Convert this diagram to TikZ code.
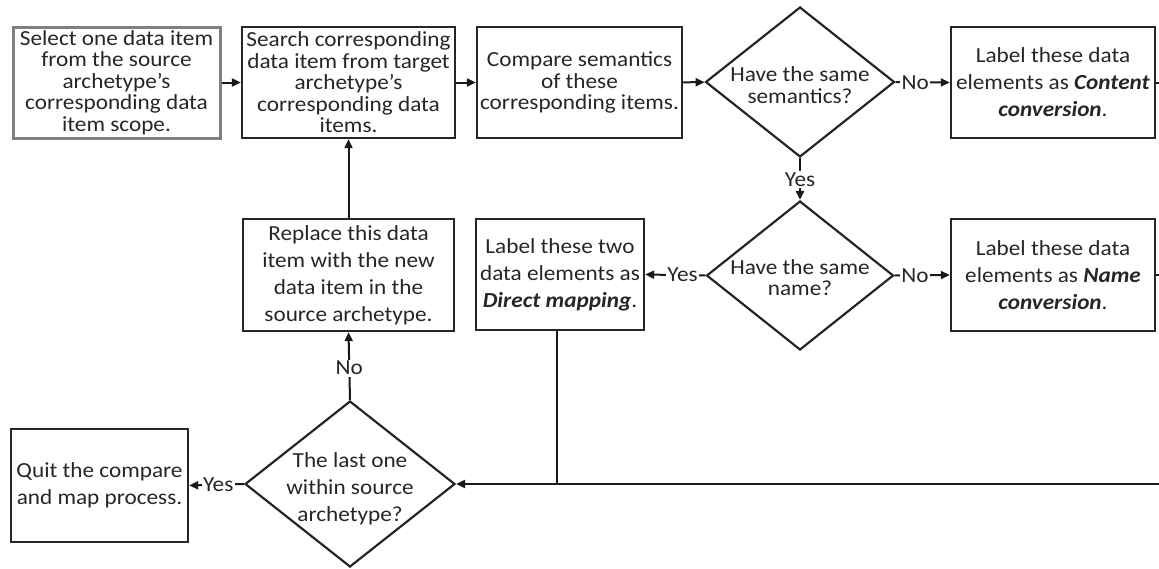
\documentclass[tikz,border=0pt]{standalone}
\usepackage{fontspec}
\setmainfont{Carlito}[FakeStretch=1.08]
\usetikzlibrary{shapes.geometric,arrows.meta,calc}
\begin{document}
\begin{tikzpicture}[x=1pt,y=-1pt,
 txt/.style={font=\fontsize{21.5}{21.5}\selectfont, align=center, inner sep=0pt, text=black!85},
 txtb/.style={font=\fontsize{21.5}{27}\selectfont, align=center, inner sep=0pt, text=black!85},
 box/.style={draw=black!85, line width=2.3pt, rectangle, inner sep=0pt},
 startbox/.style={draw=black!50, line width=3pt, rectangle, inner sep=0pt},
 dia/.style={draw=black!85, line width=2.2pt, diamond, inner sep=0pt},
 conn/.style={line width=2pt, draw=black!90},
 arr/.style={conn, -{Triangle[length=9pt,width=8pt]}},
 lbl/.style={fill=white, inner sep=1.5pt, text=black!85, font=\fontsize{21.5}{21.5}\selectfont}
]
\useasboundingbox (0,0) rectangle (1159,568);

% row 1
\node[startbox, txt, minimum width=207pt, minimum height=111pt] (select) at (116.5,82.5)
 {Select one data item\\from the source\\archetype’s\\corresponding data\\item scope.};
\node[box, txt, minimum width=213pt, minimum height=111pt] (search) at (348.5,82.5)
 {Search corresponding\\data item from target\\archetype’s\\corresponding data\\items.};
\node[box, txt, minimum width=205pt, minimum height=111pt] (compare) at (579.5,82.5)
 {Compare semantics\\of these\\corresponding items.};
\node[dia, minimum width=189pt, minimum height=150pt] (d1) at (800,82) {};
\node[txt] (d1t) at ($(d1)+(0,3)$) {Have the same\\semantics?};
\node[box, txtb, minimum width=204pt, minimum height=111pt] (content) at (1053,82.5)
 {Label these data\\elements as \textbf{\textit{Content}}\\\textbf{\textit{conversion}}.};

% row 2
\node[dia, minimum width=187pt, minimum height=149pt] (d2) at (800,275.5) {};
\node[txt] (d2t) at ($(d2)+(0,2)$) {Have the same\\name?};
\node[box, txtb, minimum width=204pt, minimum height=112pt] (name) at (1053,275)
 {Label these data\\elements as \textbf{\textit{Name}}\\\textbf{\textit{conversion}}.};
\node[box, txtb, minimum width=168pt, minimum height=111pt] (direct) at (560,274.5)
 {Label these two\\data elements as\\\textbf{\textit{Direct mapping}}.};
\node[box, txtb, minimum width=211pt, minimum height=112pt] (replace) at (348.5,275)
 {Replace this data\\item with the new\\data item in the\\source archetype.};

% row 3
\node[dia, minimum width=210pt, minimum height=166pt] (d3) at (350,484) {};
\node[txtb] (d3t) at ($(d3)+(0,5)$) {The last one\\within source\\archetype?};
\node[box, txtb, minimum width=177pt, minimum height=113pt] (quit) at (99.5,485.5)
 {Quit the compare\\and map process.};

% free ends
\coordinate (cR) at (1159,82.5);
\coordinate (nR) at (1159,275);
\coordinate (bR) at (1159,484);
\coordinate (dB) at ($(direct.south)+(-3,0)$);
\coordinate (bJ) at (dB |- bR);

% connectors
\draw[arr] (select) -- (search);
\draw[arr] (search) -- (compare);
\draw[arr] (compare) -- (d1);
\draw[arr] (d1.east) -- node[lbl, pos=0.36] {No} (content.west);
\draw[arr] (d1.south) -- node[lbl, pos=0.52] {Yes} (d2.north);
\draw[arr] (d2.east) -- node[lbl, pos=0.37] {No} (name.west);
\draw[arr] (d2.west) -- node[lbl, pos=0.38] {Yes} (direct.east);
\draw[arr] (replace.north) -- (search.south);
\draw[arr] (d3.north) -- node[lbl, pos=0.47] {No} (replace.south);
\draw[arr] (d3.west) -- node[lbl, pos=0.47] {Yes} (quit.east);
\draw[conn] (content.east) -- (cR);
\draw[conn] (name.east) -- (nR);
\draw[conn] (dB) -- (bJ);
\draw[arr] (bR) -- (bJ) -- (d3.east);
\end{tikzpicture}
\end{document}
